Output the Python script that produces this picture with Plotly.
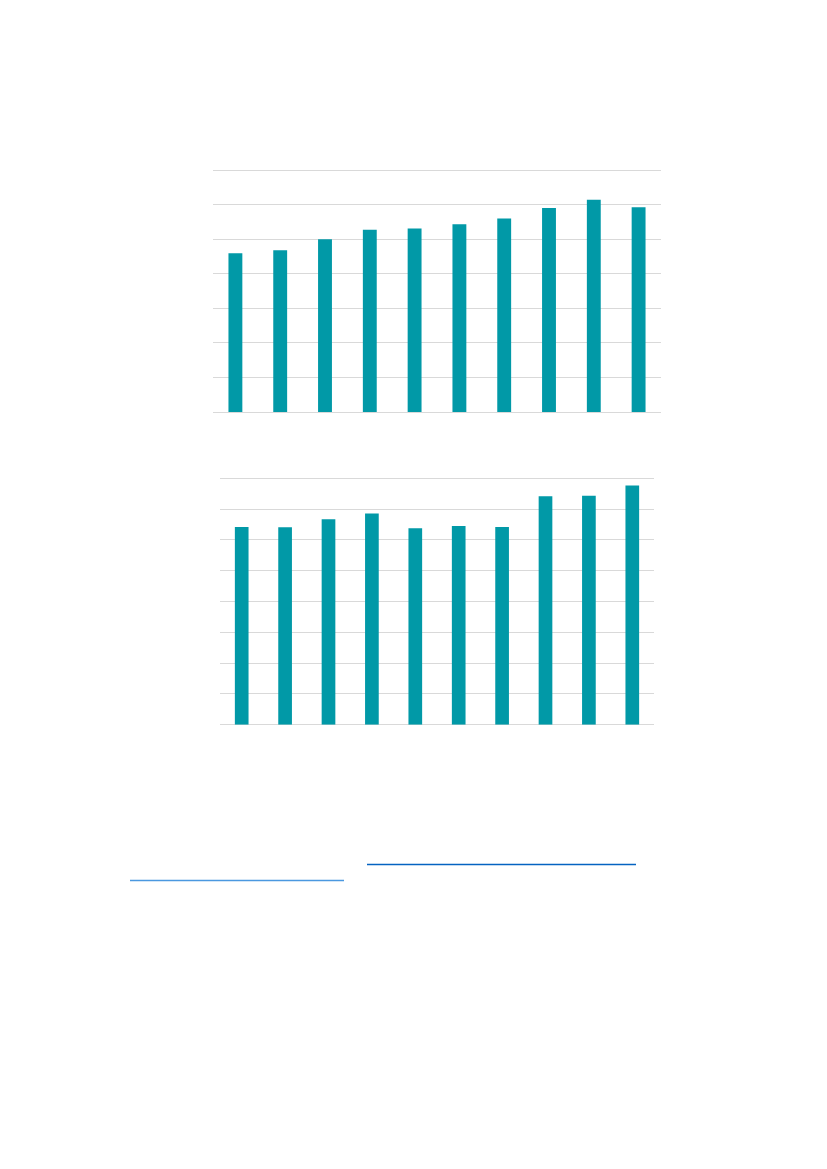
import plotly.graph_objects as go

W, H = 827, 1169
OFFSET = 8  # the page body adds an 8px margin around the figure

# category labels (no text is visible in the reference, so they stay hidden)
categories = ["2010", "2011", "2012", "2013", "2014",
              "2015", "2016", "2017", "2018", "2019"]

# upper chart values
top_values = [4.59, 4.68, 5.00, 5.27, 5.31, 5.43, 5.60, 5.90, 6.14, 5.92]
top_ticks = [0, 1, 2, 3, 4, 5, 6, 7]

# lower chart values
bottom_values = [6.42, 6.41, 6.67, 6.86, 6.38, 6.45, 6.42, 7.42, 7.43, 7.77]
bottom_ticks = [0, 1, 2, 3, 4, 5, 6, 7, 8]

BAR = "#0199A7"
GRID = "#d9d9d9"
PAD = 0.1  # head room so the top gridline is drawn


def px_x(v):
    return (v - OFFSET) / W


def px_y(v):
    return 1 - (v - OFFSET) / H


fig = go.Figure()

fig.add_trace(go.Bar(x=categories, y=top_values, marker=dict(color=BAR, line=dict(width=0)),
                     width=0.31, xaxis="x", yaxis="y", showlegend=False))
fig.add_trace(go.Bar(x=categories, y=bottom_values, marker=dict(color=BAR, line=dict(width=0)),
                     width=0.315, xaxis="x2", yaxis="y2", showlegend=False))

axis_common = dict(showticklabels=False, ticks="", showline=False)

# pixel scale per unit: 242/7 for the upper chart, 246.4/8 for the lower
top_unit = (412 - 170) / 7
bot_unit = (724.7 - 478.3) / 8

fig.update_layout(
    width=W,
    height=H,
    margin=dict(l=0, r=0, t=0, b=0),
    paper_bgcolor="white",
    plot_bgcolor="white",
    xaxis=dict(domain=[px_x(213), px_x(661)], showgrid=False, zeroline=False, **axis_common),
    yaxis=dict(domain=[px_y(412), px_y(170 - PAD * top_unit)], range=[0, max(top_ticks) + PAD],
               tickvals=top_ticks, showgrid=True, gridcolor=GRID, gridwidth=1,
               zeroline=True, zerolinecolor=GRID, zerolinewidth=1, **axis_common),
    xaxis2=dict(domain=[px_x(220), px_x(654)], anchor="y2", showgrid=False,
                zeroline=False, **axis_common),
    yaxis2=dict(domain=[px_y(724.7), px_y(478.3 - PAD * bot_unit)], anchor="x2",
                range=[0, max(bottom_ticks) + PAD],
                tickvals=bottom_ticks, showgrid=True, gridcolor=GRID, gridwidth=1,
                zeroline=True, zerolinecolor=GRID, zerolinewidth=1, **axis_common),
    shapes=[
        # hyperlink underlines in the source text
        dict(type="line", xref="paper", yref="paper",
             x0=px_x(367), x1=px_x(636), y0=px_y(864.5), y1=px_y(864.5),
             line=dict(color="#0563C1", width=1.5)),
        dict(type="line", xref="paper", yref="paper",
             x0=px_x(130), x1=px_x(344), y0=px_y(880.5), y1=px_y(880.5),
             line=dict(color="#4A98E0", width=1.5)),
    ],
)

fig.write_html("out.html")
